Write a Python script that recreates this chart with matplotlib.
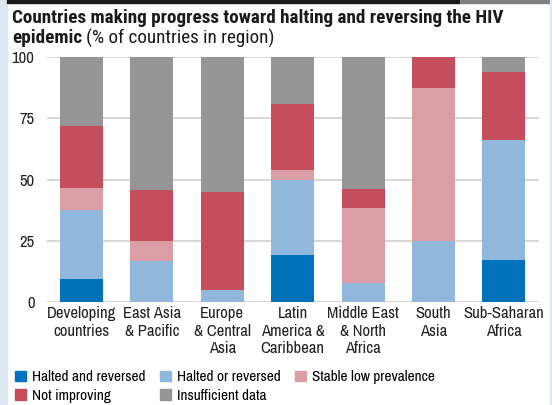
import numpy as np
import matplotlib
matplotlib.use('Agg')
import matplotlib.pyplot as plt
from matplotlib.patches import Rectangle, Patch

body_font = ['Archivo Narrow', 'Roboto Condensed', 'DejaVu Sans']
title_font = ['Roboto Condensed', 'DejaVu Sans']
plt.rcParams['font.family'] = body_font

# 数据（从图中读取，单位：% of countries in region）
regions = ['Developing\ncountries', 'East Asia\n& Pacific', 'Europe\n& Central\nAsia',
           'Latin\nAmerica &\nCaribbean', 'Middle East\n& North\nAfrica', 'South\nAsia',
           'Sub-Saharan\nAfrica']
halted_and_reversed = [9.5, 0, 0, 19.3, 0, 0, 17]
halted_or_reversed = [28.2, 16.7, 5, 30.7, 7.7, 25, 49.2]
stable_low = [8.9, 8.3, 0, 4, 30.8, 62.5, 0]
not_improving = [25.4, 20.8, 40, 26.9, 7.7, 12.5, 27.8]
insufficient = [28, 54.2, 55, 19.1, 53.8, 0, 6]

series = [
    ('Halted and reversed', halted_and_reversed, '#0072BC'),
    ('Halted or reversed', halted_or_reversed, '#92B7DD'),
    ('Stable low prevalence', stable_low, '#DB9EA6'),
    ('Not improving', not_improving, '#C64D5C'),
    ('Insufficient data', insufficient, '#959595'),
]

W, H = 552, 405
fig = plt.figure(figsize=(W / 100, H / 100), dpi=100)

# 边框装饰
fig.patches.append(Rectangle((0, 0), 7 / W, 1, transform=fig.transFigure,
                             color='#DCE6F2', zorder=0))
fig.patches.append(Rectangle((7 / W, 1 - 3 / H), 453 / W, 3 / H,
                             transform=fig.transFigure, color='#1a1a1a', zorder=0))
fig.patches.append(Rectangle((460 / W, 1 - 3 / H), 92 / W, 3 / H,
                             transform=fig.transFigure, color='#808080', zorder=0))
fig.patches.append(Rectangle((550 / W, 0), 2 / W, 1, transform=fig.transFigure,
                             color='#DCE6F2', zorder=0))

ax = fig.add_axes([47 / W, 1 - 302 / H, 492 / W, 245 / H])
x = np.arange(len(regions))
bottom = np.zeros(len(regions))
for name, vals, color in series:
    ax.bar(x, vals, width=0.61, bottom=bottom, color=color, label=name, zorder=2)
    bottom += np.array(vals)

ax.set_xlim(-0.49, 6.5)
ax.set_ylim(0, 100)
ax.set_yticks([0, 25, 50, 75, 100])
ax.yaxis.grid(True, color='#D0D0D0', linewidth=1.2, zorder=0)
ax.set_axisbelow(True)
for s in ax.spines.values():
    s.set_visible(False)
ax.tick_params(axis='both', length=0, labelsize=12, colors='#222222')
ax.tick_params(axis='y', pad=9)
ax.tick_params(axis='x', pad=3)
ax.set_xticks(x)
ax.set_xticklabels(regions, linespacing=1.2)

# 标题
fig.text(12 / W, 1 - 18 / H, 'Countries making progress toward halting and reversing the HIV',
         fontsize=13.8, fontweight='bold', va='center', color='#1a1a1a', family=title_font)
t = fig.text(12 / W, 1 - 38 / H, 'epidemic', fontsize=13.8, fontweight='bold',
             va='center', color='#1a1a1a', family=title_font)
fig.canvas.draw()
bb = t.get_window_extent()
fig.text((bb.x1 + 4) / W, 1 - 38 / H, '(% of countries in region)', fontsize=13.8,
         va='center', color='#1a1a1a', family=title_font)

# 图例
handles = [Patch(color=c, label=n) for n, _, c in series]
order = [0, 3, 1, 4, 2]
fig.legend([handles[i] for i in order], [series[i][0] for i in order],
           ncol=3, loc='center left', bbox_to_anchor=(12 / W, 1 - 386.5 / H), frameon=False,
           fontsize=11, handlelength=0.7, handleheight=0.7, handletextpad=0.4,
           columnspacing=0.95, labelspacing=0.28, borderaxespad=0.0, borderpad=0.2)

fig.savefig('out.png', dpi=100)
